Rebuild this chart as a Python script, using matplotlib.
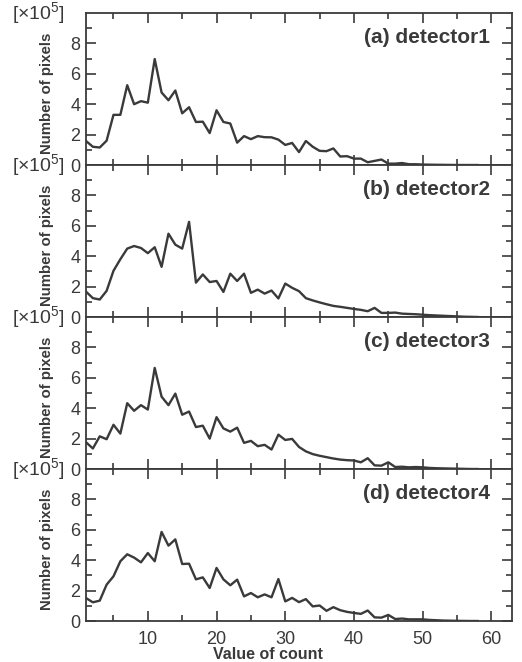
import numpy as np
import matplotlib
matplotlib.use("Agg")
import matplotlib.pyplot as plt
from matplotlib.ticker import MultipleLocator, FixedLocator

plt.rcParams['font.family'] = ['Liberation Sans', 'DejaVu Sans']
plt.rcParams['mathtext.fontset'] = 'custom'
plt.rcParams['mathtext.rm'] = 'Liberation Sans'
plt.rcParams['mathtext.it'] = 'Liberation Sans:italic'

# value of count (x axis), 1 .. 58
counts = list(range(1, 59))

# number of pixels, in units of 1e5
det1 = [1.58, 1.2, 1.15, 1.6, 3.3, 3.3, 5.25, 4.0, 4.2, 4.1,
        6.97, 4.77, 4.26, 4.9, 3.4, 3.8, 2.83, 2.85, 2.1, 3.6,
        2.83, 2.73, 1.47, 1.9, 1.7, 1.9, 1.83, 1.82, 1.67, 1.32,
        1.45, 0.85, 1.58, 1.2, 0.93, 0.91, 1.09, 0.56, 0.58, 0.42,
        0.42, 0.18, 0.27, 0.36, 0.09, 0.09, 0.13, 0.05, 0.05, 0.03,
        0.02, 0.015, 0.01, 0.005, 0.0, 0.0, 0.0, 0.0]
det2 = [1.67, 1.24, 1.15, 1.72, 3.04, 3.8, 4.5, 4.67, 4.54, 4.2,
        4.59, 3.3, 5.48, 4.76, 4.5, 6.26, 2.26, 2.8, 2.3, 2.37,
        1.65, 2.85, 2.37, 2.85, 1.59, 1.8, 1.54, 1.74, 1.22, 2.2,
        1.92, 1.7, 1.24, 1.09, 0.96, 0.84, 0.73, 0.67, 0.6, 0.53,
        0.47, 0.38, 0.6, 0.27, 0.27, 0.29, 0.22, 0.2, 0.18, 0.15,
        0.12, 0.1, 0.08, 0.06, 0.04, 0.02, 0.01, 0.0]
det3 = [1.76, 1.35, 2.15, 1.96, 2.91, 2.33, 4.33, 3.83, 4.2, 3.91,
        6.65, 4.76, 4.2, 4.96, 3.57, 3.78, 2.76, 2.85, 2.0, 3.41,
        2.67, 2.46, 2.72, 1.72, 1.85, 1.5, 1.59, 1.28, 2.26, 1.91,
        1.98, 1.45, 1.16, 0.98, 0.87, 0.78, 0.69, 0.62, 0.58, 0.56,
        0.44, 0.71, 0.24, 0.22, 0.44, 0.13, 0.15, 0.11, 0.13, 0.11,
        0.07, 0.05, 0.04, 0.03, 0.02, 0.01, 0.0, 0.0]
det4 = [1.51, 1.23, 1.34, 2.39, 2.94, 3.93, 4.39, 4.17, 3.86, 4.47,
        3.93, 5.86, 4.96, 5.37, 3.75, 3.77, 2.74, 2.87, 2.17, 3.49,
        2.74, 2.35, 2.72, 1.62, 1.84, 1.56, 1.75, 1.56, 2.76, 1.29,
        1.52, 1.24, 1.44, 0.96, 1.02, 0.67, 0.91, 0.71, 0.6, 0.53,
        0.47, 0.69, 0.24, 0.22, 0.4, 0.13, 0.16, 0.11, 0.11, 0.11,
        0.07, 0.05, 0.03, 0.02, 0.01, 0.005, 0.0, 0.0]

series = [det1, det2, det3, det4]
names = ['(a) detector1', '(b) detector2', '(c) detector3', '(d) detector4']

ink = '#3a3a3a'

fig = plt.figure(figsize=(5.22, 6.62), dpi=100)
left, right = 86 / 522, 512 / 522
top_px, bot_px = 13, 621
h = (bot_px - top_px) / 4

axes = []
for k in range(4):
    y0 = 1 - (top_px + (k + 1) * h) / 662
    ax = fig.add_axes([left, y0, right - left, h / 662])
    axes.append(ax)

    ax.plot(counts, series[k], color=ink, lw=1.7)
    ax.set_xlim(1, 63)
    ax.set_ylim(0, 10)

    ax.yaxis.set_major_locator(FixedLocator([0, 2, 4, 6, 8]))
    ax.yaxis.set_minor_locator(FixedLocator([1, 3, 5, 7, 9]))
    ax.xaxis.set_major_locator(MultipleLocator(10))
    ax.xaxis.set_minor_locator(MultipleLocator(5))
    ax.tick_params(which='both', direction='in', top=True, right=True,
                   color=ink, width=1.2, labelsize=13, labelcolor=ink)
    ax.tick_params(which='major', length=7, pad=4)
    ax.tick_params(which='minor', length=4.5)
    ax.tick_params(axis='x', which='major', pad=7)
    for s in ax.spines.values():
        s.set_color(ink)
        s.set_linewidth(1.3)

    if k < 3:
        ax.tick_params(axis='x', labelbottom=False)

    ax.text(0.948, 0.84, names[k], transform=ax.transAxes, ha='right', va='center',
            fontsize=15, fontweight='bold', color=ink)
    ax.text(-0.05, 1.0, r'[$\times$10$^5$]', transform=ax.transAxes, ha='right',
            va='center', fontsize=14, color=ink)
    ax.set_ylabel('Number of pixels', fontsize=10.8, fontweight='bold', color=ink)
    ax.yaxis.set_label_coords(-0.074, 0.47)

axes[3].set_xlabel('Value of count', fontsize=11.5, fontweight='bold', color=ink,
                   labelpad=0)
axes[3].xaxis.set_label_coords(0.427, -0.168)

fig.savefig('out.png', dpi=100)
